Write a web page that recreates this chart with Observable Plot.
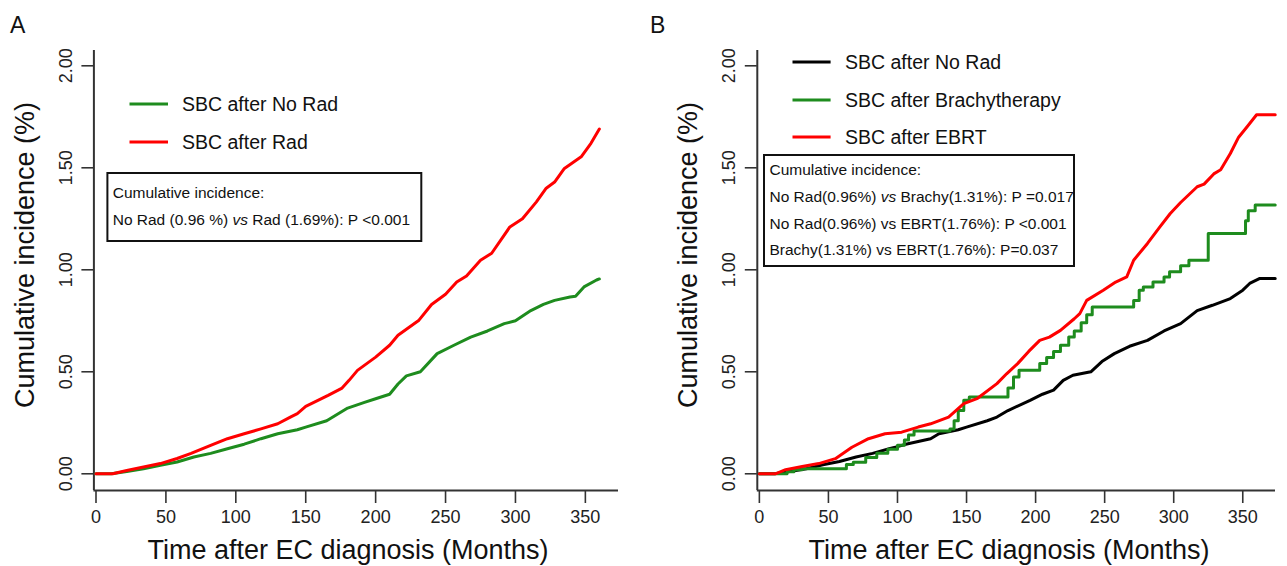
<!DOCTYPE html>
<html><head><meta charset="utf-8">
<script src="https://cdn.jsdelivr.net/npm/d3@7"></script>
<script src="https://cdn.jsdelivr.net/npm/@observablehq/plot@0.6"></script>
<style>
body{margin:0;background:#fff;}
#wrap{position:relative;width:1287px;height:566px;overflow:hidden;background:#fff;}
.panel{position:absolute;top:0;}
#overlay{position:absolute;left:0;top:0;}
</style>
</head><body>
<div id="wrap"></div>
<script>
// ---------- data ----------
const xTicks = [0, 50, 100, 150, 200, 250, 300, 350];
const yTicks = [0, 0.5, 1, 1.5, 2];
const xDomain = [-1.5, 373.7];
const yDomain = [-0.082, 2.075];

// Panel A: [months, cumulative incidence %]
const aNoRad = [[0,0],[11,0],[22,0.011],[34,0.025],[46,0.042],[58,0.058],[70,0.082],[82,0.1],[94,0.123],[106,0.145],[118,0.172],[130,0.196],[144,0.216],[150,0.229],[165,0.26],[180,0.322],[192,0.35],[200,0.368],[210,0.39],[216,0.44],[222,0.48],[232,0.5],[244,0.589],[256,0.63],[268,0.67],[280,0.7],[292,0.736],[300,0.75],[311,0.8],[320,0.83],[328,0.85],[339,0.867],[343,0.87],[349,0.916],[358,0.95],[360,0.955]];
const aRad = [[0,0],[12,0],[22,0.016],[34,0.033],[46,0.05],[58,0.075],[68,0.1],[82,0.139],[94,0.172],[106,0.196],[118,0.22],[130,0.245],[139,0.278],[144,0.295],[150,0.33],[166,0.384],[176,0.42],[181,0.458],[187,0.507],[200,0.572],[210,0.63],[216,0.679],[231,0.753],[240,0.83],[250,0.88],[258,0.94],[265,0.97],[275,1.047],[283,1.081],[296,1.21],[305,1.25],[315,1.333],[322,1.4],[328,1.43],[335,1.497],[347,1.554],[354,1.62],[360,1.69]];

// Panel B
const bNoRad = [[0,0],[11,0],[22,0.011],[34,0.025],[46,0.044],[58,0.06],[70,0.082],[82,0.1],[94,0.123],[100,0.133],[106,0.145],[124,0.172],[130,0.196],[144,0.216],[150,0.229],[165,0.26],[172,0.278],[180,0.31],[196,0.36],[205,0.39],[213,0.41],[220,0.458],[227,0.483],[240,0.5],[248,0.55],[257,0.589],[268,0.625],[281,0.654],[293,0.7],[305,0.736],[317,0.8],[328,0.826],[341,0.859],[350,0.9],[355,0.933],[362,0.957],[373.5,0.957]];
const bBrachy = [[0,0],[14,0],[20,0.01],[25,0.02],[31,0.025],[63,0.045],[68,0.057],[77,0.08],[85,0.1],[93,0.12],[100,0.14],[105,0.165],[108,0.19],[112,0.21],[138,0.22],[141,0.26],[144,0.31],[148,0.36],[152,0.376],[180,0.42],[184,0.474],[188,0.507],[203,0.54],[208,0.57],[213,0.6],[218,0.63],[224,0.67],[228,0.7],[233,0.74],[237,0.78],[241,0.818],[271,0.85],[275,0.9],[278,0.916],[285,0.94],[293,0.965],[297,0.99],[305,1.02],[311,1.047],[325,1.178],[352,1.24],[354,1.29],[359,1.317],[373.5,1.317]];
const bEbrt = [[0,0],[11.6,0],[19,0.02],[31,0.036],[43,0.05],[55,0.074],[67,0.13],[79,0.172],[91,0.196],[103,0.204],[115,0.229],[124,0.245],[137,0.278],[148,0.344],[158,0.37],[172,0.442],[179,0.49],[187,0.54],[195,0.6],[203,0.654],[210,0.67],[218,0.703],[228,0.76],[232,0.785],[237,0.85],[249,0.9],[258,0.94],[266,0.965],[271,1.047],[281,1.129],[290,1.21],[297.5,1.276],[305,1.33],[317,1.407],[322,1.42],[329,1.47],[334,1.49],[341,1.57],[347,1.65],[353,1.70],[360,1.76],[373.5,1.76]];

const GREEN = "#1e8c1e", RED = "#ff0000", BLACK = "#000000";
const FONT = "'Liberation Sans', Arial, Helvetica, sans-serif";

const seriesA = [
  {name:"SBC after No Rad", data:aNoRad, color:GREEN, curve:"linear"},
  {name:"SBC after Rad", data:aRad, color:RED, curve:"linear"}
];
const seriesB = [
  {name:"SBC after No Rad", data:bNoRad, color:BLACK, curve:"linear"},
  {name:"SBC after Brachytherapy", data:bBrachy, color:GREEN, curve:"step-after"},
  {name:"SBC after EBRT", data:bEbrt, color:RED, curve:"linear"}
];

function panel(width, marginLeft, marginRight, series) {
  return Plot.plot({
    width, height: 566,
    marginLeft, marginRight, marginTop: 50, marginBottom: 76,
    x: {domain: xDomain},
    y: {domain: yDomain},
    style: {fontFamily: FONT, fontSize: "18px", color: "#222", background: "transparent", overflow: "visible"},
    marks: [
      Plot.axisX({ticks: xTicks, tickSize: 13, tickPadding: 7, label: null, stroke: "#333", strokeWidth: 1.6, fill: "#222"}),
      Plot.axisY({ticks: yTicks, tickSize: 12, tickPadding: 16, tickRotate: -90, lineAnchor: "middle", textAnchor: "middle",
                  tickFormat: d3.format(".2f"), label: null, stroke: "#333", strokeWidth: 1.6, fill: "#222"}),
      Plot.ruleX([xDomain[0]], {stroke: "#333", strokeWidth: 2}),
      Plot.ruleY([yDomain[0]], {stroke: "#333", strokeWidth: 2}),
      ...series.map(s => Plot.line(s.data, {x: d => d[0], y: d => d[1], stroke: s.color, strokeWidth: 3, curve: s.curve}))
    ]
  });
}

const wrap = document.getElementById("wrap");
const pA = panel(643, 93.4, 25, seriesA);
pA.classList.add("panel"); pA.style.left = "0px";
wrap.appendChild(pA);
const pB = panel(644, 113.8, 12, seriesB);
pB.classList.add("panel"); pB.style.left = "643px";
wrap.appendChild(pB);

// ---------- annotations overlay ----------
const svg = d3.select(wrap).append("svg").attr("id","overlay")
  .attr("width",1287).attr("height",566)
  .style("font-family", FONT).style("fill","#111");

function txt(x, y, s, size, opts = {}) {
  const t = svg.append("text").attr("x", x).attr("y", y).attr("font-size", size).attr("fill", "#111");
  if (opts.anchor) t.attr("text-anchor", opts.anchor);
  if (opts.rotate) t.attr("transform", `rotate(${opts.rotate},${x},${y})`);
  if (opts.baseline) t.attr("dominant-baseline", opts.baseline);
  if (Array.isArray(s)) s.forEach(p => { const ts = t.append("tspan").text(p.t); if (p.i) ts.attr("font-style","italic"); });
  else t.text(s);
  return t;
}

// Panel letters
txt(10, 33, "A", 23);
txt(650, 33, "B", 23);

// Axis titles
const yTitle = "Cumulative incidence (%)";
const xTitle = "Time after EC diagnosis (Months)";
txt(25, 255, yTitle, 27, {anchor:"middle", rotate:-90, baseline:"central"});
txt(688, 255, yTitle, 27, {anchor:"middle", rotate:-90, baseline:"central"});
txt(348, 559, xTitle, 27, {anchor:"middle"});
txt(1009, 559, xTitle, 27, {anchor:"middle"});

// Legends
function legend(x0, x1, xt, ys, series) {
  series.forEach((s, i) => {
    svg.append("line").attr("x1", x0).attr("x2", x1).attr("y1", ys[i]).attr("y2", ys[i])
      .attr("stroke", s.color).attr("stroke-width", 3);
    txt(xt, ys[i] + 7, s.name, 19.5);
  });
}
legend(129.5, 168, 182, [104, 142], seriesA);
legend(792.5, 830.6, 845, [62, 100, 137], seriesB);

// Boxes
const boxA = ["Cumulative incidence:",
  [{t:"No Rad (0.96 %) "},{t:"vs",i:true},{t:" Rad (1.69%): P <0.001"}]];
const boxB = ["Cumulative incidence:",
  [{t:"No Rad(0.96%) "},{t:"vs",i:true},{t:" Brachy(1.31%): P =0.017"}],
  "No Rad(0.96%) vs EBRT(1.76%): P <0.001",
  "Brachy(1.31%) vs EBRT(1.76%): P=0.037"];
function box(x0, y0, x1, y1, xt, ys, lines) {
  svg.append("rect").attr("x", x0).attr("y", y0).attr("width", x1 - x0).attr("height", y1 - y0)
    .attr("fill", "none").attr("stroke", "#111").attr("stroke-width", 2);
  lines.forEach((l, i) => txt(xt, ys[i] + 5.5, l, 15.5));
}
box(107.4, 173, 421.3, 241, 112.7, [192, 219], boxA);
box(764, 155, 1074, 266, 769.5, [169, 196, 223, 249], boxB);
</script>
</body></html>
